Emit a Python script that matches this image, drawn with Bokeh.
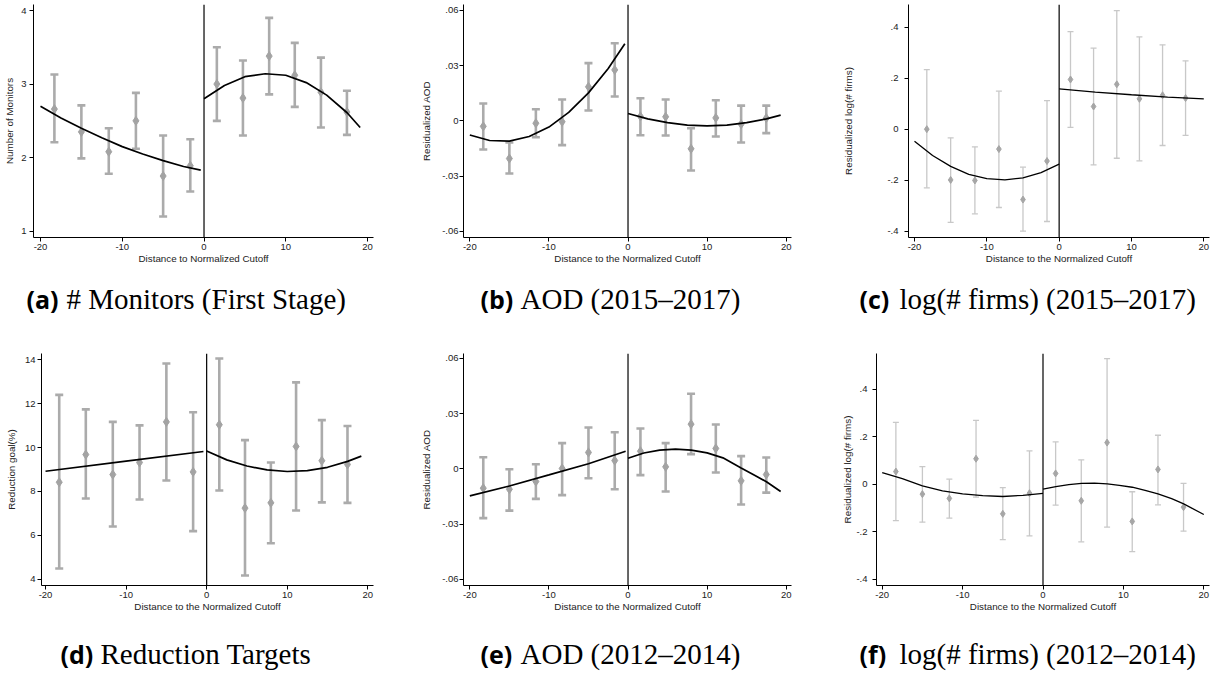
from bokeh.plotting import figure
from bokeh.models import ColumnDataSource, Whisker, TeeHead, Span, Label, FixedTicker, Range1d
from bokeh.layouts import row, column
from bokeh.embed import file_html
from bokeh.resources import INLINE

# ---------------- data ----------------
BIN_X = [-18.3, -15.0, -11.65, -8.33, -5.0, -1.68, 1.57, 4.76, 7.97, 11.1, 14.3, 17.48]

# (a) number of monitors
a_mean = [2.66, 2.35, 2.08, 2.50, 1.75, 1.89, 3.00, 2.81, 3.38, 3.12, 2.89, 2.62]
a_hi = [3.13, 2.71, 2.40, 2.88, 2.30, 2.25, 3.50, 3.32, 3.90, 3.56, 3.36, 2.91]
a_lo = [2.21, 1.99, 1.78, 2.12, 1.20, 1.54, 2.50, 2.30, 2.86, 2.69, 2.41, 2.31]
a_fitL_x = [-20, -17.5, -15, -12.5, -10, -7.5, -5, -2.5, -0.4]
a_fitL_y = [2.70, 2.54, 2.40, 2.27, 2.15, 2.05, 1.96, 1.88, 1.83]
a_fitR_x = [0, 2.5, 5, 7.5, 10, 12.5, 15, 17.5, 19.1]
a_fitR_y = [2.80, 2.98, 3.10, 3.14, 3.12, 3.02, 2.85, 2.61, 2.41]

# (b) AOD 2015-2017
b_mean = [-0.0030, -0.0205, -0.0013, -0.0005, 0.0185, 0.0277, 0.0024, 0.0022, -0.0152, 0.0016, -0.0018, 0.0015]
b_hi = [0.0094, -0.0118, 0.0063, 0.0116, 0.0314, 0.0422, 0.0123, 0.0116, -0.0040, 0.0112, 0.0083, 0.0083]
b_lo = [-0.0156, -0.0286, -0.0089, -0.0132, 0.0056, 0.0132, -0.0078, -0.0080, -0.0270, -0.0085, -0.0118, -0.0067]
b_fitL_x = [-20, -17.5, -15, -12.5, -10, -7.5, -5, -2.5, -0.4]
b_fitL_y = [-0.0077, -0.0107, -0.0110, -0.0085, -0.0034, 0.0046, 0.0152, 0.0285, 0.0419]
b_fitR_x = [0, 2.5, 5, 7.5, 10, 12.5, 15, 17.5, 19.3]
b_fitR_y = [0.0040, 0.0011, -0.0010, -0.0023, -0.0027, -0.0023, -0.0010, 0.0011, 0.0031]

# (c) log(# firms) 2015-2017
c_mean = [0.000, -0.199, -0.201, -0.078, -0.276, -0.125, 0.195, 0.089, 0.176, 0.119, 0.133, 0.122]
c_hi = [0.234, -0.034, -0.069, 0.149, -0.149, 0.112, 0.383, 0.318, 0.465, 0.362, 0.331, 0.268]
c_lo = [-0.230, -0.365, -0.332, -0.307, -0.400, -0.362, 0.007, -0.140, -0.114, -0.124, -0.064, -0.024]
c_fitL_x = [-20, -17.5, -15, -12.5, -10, -7.5, -5, -2.5, 0]
c_fitL_y = [-0.047, -0.103, -0.146, -0.177, -0.194, -0.199, -0.191, -0.170, -0.137]
c_fitR_x = [0, 5, 10, 15, 20]
c_fitR_y = [0.158, 0.145, 0.135, 0.126, 0.119]

# (d) reduction targets
d_mean = [8.42, 9.68, 8.77, 9.32, 11.17, 8.89, 11.04, 7.24, 7.48, 10.05, 9.40, 9.23]
d_hi = [12.40, 11.74, 11.17, 11.01, 13.83, 11.61, 14.06, 10.34, 9.32, 12.97, 11.25, 10.98]
d_lo = [4.49, 7.68, 6.40, 7.63, 8.50, 6.19, 8.04, 4.17, 5.64, 7.13, 7.50, 7.48]
d_fitL_x = [-20, -10, -0.4]
d_fitL_y = [8.92, 9.38, 9.82]
d_fitR_x = [0, 2.5, 5, 7.5, 10, 12.5, 15, 17.5, 19.2]
d_fitR_y = [9.84, 9.44, 9.16, 8.98, 8.91, 8.95, 9.10, 9.37, 9.61]

# (e) AOD 2012-2014
e_mean = [-0.0105, -0.0111, -0.0069, 0.0002, 0.0089, 0.0045, 0.0096, 0.0011, 0.0243, 0.0111, -0.0065, -0.0031]
e_hi = [0.0063, -0.0002, 0.0025, 0.0140, 0.0225, 0.0199, 0.0219, 0.0140, 0.0408, 0.0241, 0.0069, 0.0062]
e_lo = [-0.0268, -0.0227, -0.0163, -0.0143, -0.0051, -0.0111, -0.0034, -0.0123, 0.0080, -0.0020, -0.0194, -0.0129]
e_fitL_x = [-20, -15, -10, -5, -0.3]
e_fitL_y = [-0.0147, -0.0093, -0.0033, 0.0028, 0.0096]
e_fitR_x = [0, 2, 4, 6, 8, 10, 12, 14.3, 16, 17.5, 19.3]
e_fitR_y = [0.0058, 0.0086, 0.0102, 0.0107, 0.0102, 0.0087, 0.0060, 0.0005, -0.0035, -0.0070, -0.0123]

# (f) log(# firms) 2012-2014
f_mean = [0.053, -0.042, -0.060, 0.107, -0.125, -0.038, 0.045, -0.070, 0.175, -0.157, 0.062, -0.097]
f_hi = [0.260, 0.074, 0.021, 0.269, -0.015, 0.140, 0.178, 0.102, 0.529, -0.032, 0.206, 0.003]
f_lo = [-0.154, -0.160, -0.143, -0.055, -0.234, -0.218, -0.088, -0.243, -0.181, -0.284, -0.087, -0.198]
f_fitL_x = [-20, -17.5, -15, -12.5, -10, -7.5, -5, -2.5, 0]
f_fitL_y = [0.049, 0.023, -0.007, -0.028, -0.041, -0.048, -0.052, -0.047, -0.039]
f_fitR_x = [0, 1.6, 3.2, 4.8, 6.4, 8, 9.5, 11.1, 12.7, 14.3, 16, 17.5, 20]
f_fitR_y = [-0.021, -0.010, -0.002, 0.003, 0.004, 0.001, -0.005, -0.013, -0.026, -0.041, -0.061, -0.083, -0.128]

X_TICKS = [-20, -10, 0, 10, 20]
X_LABELS = ["-20", "-10", "0", "10", "20"]
Y_TICKS_A = [1, 2, 3, 4]
Y_TICKS_AOD = [-0.06, -0.03, 0, 0.03, 0.06]
Y_LABELS_AOD = ["-.06", "-.03", "0", ".03", ".06"]
Y_TICKS_FIRMS = [-0.4, -0.2, 0, 0.2, 0.4]
Y_LABELS_FIRMS = ["-.4", "-.2", "0", ".2", ".4"]
Y_TICKS_D = [4, 6, 8, 10, 12, 14]

CAP_TAGS_TOP = ["(a)", "(b)", "(c)"]
CAP_TEXTS_TOP = ["# Monitors (First Stage)", "AOD (2015\u20132017)", "log(# firms) (2015\u20132017)"]
CAP_TAGS_BOT = ["(d)", "(e)", "(f)"]
CAP_TEXTS_BOT = ["Reduction Targets", "AOD (2012\u20132014)", "log(# firms) (2012\u20132014)"]

FONT = "Liberation Sans"
TXT = "#222222"


def panel(w, h, borders, xr, yr, yticks, ylabels, ytitle, xtitle, mean, hi, lo,
          fl_x, fl_y, fr_x, fr_y, thin=False, ylab_standoff=2, ytitle_standoff=3):
    left, right, top, bottom = borders
    p = figure(width=w, height=h, output_backend="svg", toolbar_location=None,
               x_range=Range1d(*xr), y_range=Range1d(*yr),
               min_border_left=left, min_border_right=right,
               min_border_top=top, min_border_bottom=bottom)
    p.outline_line_color = None
    p.xgrid.visible = False
    p.ygrid.visible = False
    for ax in (p.xaxis[0], p.yaxis[0]):
        ax.axis_line_color = "black"
        ax.axis_line_width = 1
        ax.major_tick_line_color = "black"
        ax.major_tick_out = 4
        ax.major_tick_in = 0
        ax.minor_tick_line_color = None
        ax.major_label_text_font = FONT
        ax.major_label_text_font_size = "9.5px"
        ax.major_label_text_color = TXT
        ax.axis_label_text_font = FONT
        ax.axis_label_text_font_size = "9.8px"
        ax.axis_label_text_font_style = "normal"
        ax.axis_label_text_color = TXT
    p.xaxis.ticker = FixedTicker(ticks=X_TICKS)
    p.xaxis.major_label_overrides = {t: l for t, l in zip(X_TICKS, X_LABELS)}
    p.xaxis.major_label_standoff = 2
    p.xaxis.axis_label_standoff = 0
    p.xaxis.axis_label = xtitle
    p.yaxis.ticker = FixedTicker(ticks=yticks)
    p.yaxis.major_label_overrides = {t: l for t, l in zip(yticks, ylabels)}
    p.yaxis.major_label_orientation = "horizontal"
    p.yaxis.major_label_standoff = ylab_standoff
    p.yaxis.axis_label = ytitle
    p.yaxis.axis_label_standoff = ytitle_standoff

    src = ColumnDataSource(dict(x=BIN_X, m=mean, hi=hi, lo=lo))
    if thin:
        ecol, ew, hs, mcol, ms = "#c8c8c8", 1.3, 6, "#a6a6a6", 7
    else:
        ecol, ew, hs, mcol, ms = "#ababab", 2.6, 8, "#a3a3a3", 9
    wh = Whisker(source=src, base="x", upper="hi", lower="lo", line_color=ecol, line_width=ew,
                 upper_head=TeeHead(size=hs, line_color=ecol, line_width=ew),
                 lower_head=TeeHead(size=hs, line_color=ecol, line_width=ew))
    p.add_layout(wh)
    p.scatter("x", "m", source=src, marker="diamond", size=ms, fill_color=mcol, line_color=mcol)
    p.add_layout(Span(location=0, dimension="height", line_color="black", line_width=1.2))
    lw = 1.3 if thin else 1.7
    p.line(fl_x, fl_y, line_color="black", line_width=lw)
    p.line(fr_x, fr_y, line_color="black", line_width=lw)
    return p


def caption_strip(h, ymid, tags, texts, starts):
    c = figure(width=1221, height=h, output_backend="svg", toolbar_location=None,
               x_range=Range1d(0, 1221), y_range=Range1d(0, h),
               x_axis_type=None, y_axis_type=None,
               min_border_left=0, min_border_right=0, min_border_top=0, min_border_bottom=0)
    c.outline_line_color = None
    c.xgrid.visible = False
    c.ygrid.visible = False
    for tag, txt, x0 in zip(tags, texts, starts):
        c.add_layout(Label(x=x0, y=ymid, text=tag, text_font="Open Sans", text_font_style="bold",
                           text_font_size="25px", text_color="black",
                           text_baseline="middle", text_align="left"))
        c.add_layout(Label(x=x0 + 40, y=ymid, text=txt, text_font="Liberation Serif",
                           text_font_size="29px", text_color="black",
                           text_baseline="middle", text_align="left"))
    return c


R1H, R2H = 270, 283
pa = panel(410, R1H, (33, 37, 4, 33), (-20.856, 20.73), (0.9144, 4.0816),
           Y_TICKS_A, [str(t) for t in Y_TICKS_A], "Number of Monitors",
           "Distance to Normalized Cutoff", a_mean, a_hi, a_lo,
           a_fitL_x, a_fitL_y, a_fitR_x, a_fitR_y, ylab_standoff=3, ytitle_standoff=3)
pb = panel(400, R1H, (53, 19, 4, 33), (-20.80, 20.67), (-0.06343, 0.06326),
           Y_TICKS_AOD, Y_LABELS_AOD, "Residualized AOD",
           "Distance to the Normalized Cutoff", b_mean, b_hi, b_lo,
           b_fitL_x, b_fitL_y, b_fitR_x, b_fitR_y, ylab_standoff=1, ytitle_standoff=7)
pc = panel(411, R1H, (98, 12, 4, 33), (-20.83, 20.79), (-0.4247, 0.489),
           Y_TICKS_FIRMS, Y_LABELS_FIRMS, "Residualized log(# firms)",
           "Distance to the Normalized Cutoff", c_mean, c_hi, c_lo,
           c_fitL_x, c_fitL_y, c_fitR_x, c_fitR_y, thin=True, ylab_standoff=6, ytitle_standoff=30)
pd_ = panel(410, R2H, (41, 37, 18, 33), (-20.50, 20.71), (3.713, 14.287),
            Y_TICKS_D, [str(t) for t in Y_TICKS_D], "Reduction goal(%)",
            "Distance to the Normalized Cutoff", d_mean, d_hi, d_lo,
            d_fitL_x, d_fitL_y, d_fitR_x, d_fitR_y, ylab_standoff=2, ytitle_standoff=5)
pe = panel(400, R2H, (53, 19, 18, 33), (-20.80, 20.67), (-0.0634, 0.0627),
           Y_TICKS_AOD, Y_LABELS_AOD, "Residualized AOD",
           "Distance to the Normalized Cutoff", e_mean, e_hi, e_lo,
           e_fitL_x, e_fitL_y, e_fitR_x, e_fitR_y, ylab_standoff=1, ytitle_standoff=7)
pf = panel(411, R2H, (66, 12, 18, 33), (-20.71, 20.71), (-0.4269, 0.5503),
           Y_TICKS_FIRMS, Y_LABELS_FIRMS, "Residualized log(# firms)",
           "Distance to the Normalized Cutoff", f_mean, f_hi, f_lo,
           f_fitL_x, f_fitL_y, f_fitR_x, f_fitR_y, thin=True, ylab_standoff=5, ytitle_standoff=0)

cap1 = caption_strip(65, 37, CAP_TAGS_TOP, CAP_TEXTS_TOP, [26, 480, 859])
cap2 = caption_strip(53, 18, CAP_TAGS_BOT, CAP_TEXTS_BOT, [60, 480, 859])

layout = column(row(pa, pb, pc, spacing=0), cap1, row(pd_, pe, pf, spacing=0), cap2, spacing=0)

open("out.html", "w").write(file_html(layout, INLINE))
